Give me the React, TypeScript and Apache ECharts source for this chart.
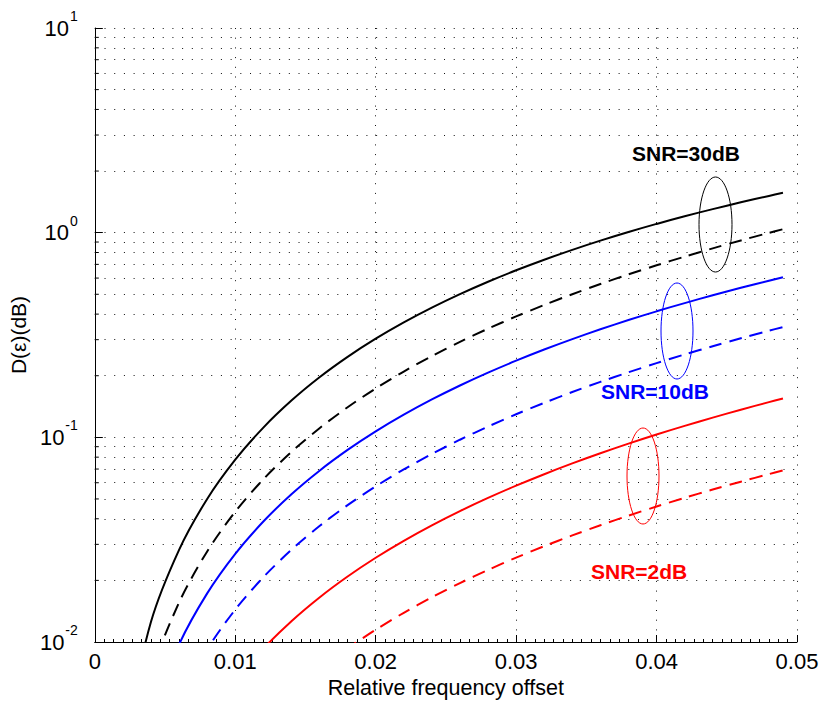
import React, { useEffect, useRef } from "react";
import * as echarts from "echarts";

// Relative frequency offset (x samples shared by all curves)
const EPS = [0.002, 0.004, 0.006, 0.008, 0.010, 0.012, 0.014, 0.016, 0.018, 0.020, 0.022, 0.024, 0.026, 0.028, 0.030, 0.032, 0.034, 0.036, 0.038, 0.040, 0.042, 0.044, 0.046, 0.048, 0.049];

// D(eps) in dB
const SNR30_SOLID = [0.00314, 0.01255, 0.0282, 0.0500, 0.0778, 0.1116, 0.1512, 0.1965, 0.2472, 0.3033, 0.3643, 0.4302, 0.5008, 0.5757, 0.6548, 0.7376, 0.8242, 0.9142, 1.0074, 1.1035, 1.2023, 1.3035, 1.4068, 1.5123, 1.5659];
const SNR30_DASH = [0.00173, 0.00693, 0.0156, 0.0277, 0.0433, 0.0624, 0.0849, 0.1108, 0.1403, 0.1732, 0.2096, 0.2494, 0.2927, 0.3395, 0.3897, 0.4434, 0.5005, 0.5612, 0.6253, 0.6928, 0.7638, 0.8383, 0.9162, 0.9976, 1.0396];
const SNR10_SOLID = [0.00108, 0.00433, 0.00973, 0.01728, 0.02697, 0.03879, 0.05271, 0.06872, 0.08679, 0.1069, 0.1290, 0.1531, 0.1792, 0.2071, 0.2369, 0.2686, 0.3020, 0.3373, 0.3741, 0.4127, 0.4528, 0.4945, 0.5378, 0.5825, 0.6054];
const SNR10_DASH = [0.000576, 0.002304, 0.005184, 0.009216, 0.0144, 0.020736, 0.028224, 0.036864, 0.046656, 0.0576, 0.069696, 0.082944, 0.097344, 0.112896, 0.1296, 0.147456, 0.166464, 0.186624, 0.207936, 0.2304, 0.254016, 0.278784, 0.304704, 0.331776, 0.345744];
const SNR2_SOLID = [0.000258, 0.001032, 0.002322, 0.004128, 0.00645, 0.009288, 0.012642, 0.016512, 0.020898, 0.0258, 0.031218, 0.037152, 0.043602, 0.050568, 0.05805, 0.066048, 0.074562, 0.083592, 0.093138, 0.1032, 0.113778, 0.124872, 0.136482, 0.148608, 0.154865];
const SNR2_DASH = [0.000115, 0.000459, 0.001033, 0.001837, 0.00287, 0.004133, 0.005625, 0.007347, 0.009299, 0.01148, 0.013891, 0.016531, 0.019401, 0.022501, 0.02583, 0.029389, 0.033177, 0.037195, 0.041443, 0.04592, 0.050627, 0.055563, 0.060729, 0.066125, 0.068909];

// Log-axis minor positions (2..9 x decade)
const Y_MINOR = [0.02, 0.03, 0.04, 0.05, 0.06, 0.07, 0.08, 0.09, 0.2, 0.3, 0.4, 0.5, 0.6, 0.7, 0.8, 0.9, 2, 3, 4, 5, 6, 7, 8, 9];

const ANNOTATIONS = ["SNR=30dB", "SNR=10dB", "SNR=2dB"];

const FONT = "'Liberation Sans', Arial, Helvetica, sans-serif";
const DOT: number[] = [1, 8.7];
const GRID_COLOR = "#111";

export default function App() {
  const ref = useRef<HTMLDivElement>(null);
  useEffect(() => {
    if (!ref.current) return;
    const chart = echarts.init(ref.current, null, { renderer: "svg" });
    const pts = (vals: number[]) => EPS.map((e, i) => [e, vals[i]]);
    const mk = (name: string, vals: number[], color: string, dashed: boolean) => ({
      name,
      type: "line",
      data: pts(vals),
      smooth: 0.3,
      showSymbol: false,
      symbol: "none",
      clip: true,
      lineStyle: { color, width: 2, type: dashed ? [13, 8] : "solid" },
      z: 5,
    });
    const option: any = {
      animation: false,
      backgroundColor: "#fff",
      grid: { left: 93, right: 26, top: 28, bottom: 66 },
      xAxis: {
        type: "value",
        min: 0,
        max: 0.05,
        interval: 0.01,
        name: "Relative frequency offset",
        nameLocation: "middle",
        nameGap: 35,
        nameTextStyle: { fontSize: 21.5, color: "#000", fontFamily: FONT },
        axisLine: { show: true, lineStyle: { color: "#000", width: 1 } },
        axisTick: { show: true, inside: true, length: 7, lineStyle: { color: "#000" } },
        minorTick: { show: true, splitNumber: 15, length: 3, lineStyle: { color: "#000" } },
        axisLabel: { fontSize: 22, color: "#000", margin: 8, fontFamily: FONT },
        splitLine: { show: true, lineStyle: { color: GRID_COLOR, width: 1, type: DOT } },
      },
      yAxis: {
        type: "log",
        logBase: 10,
        min: 0.01,
        max: 10,
        name: "D(ε)(dB)",
        nameLocation: "middle",
        nameGap: 60,
        nameTextStyle: { fontSize: 21, color: "#000", fontFamily: FONT },
        axisLine: { show: true, lineStyle: { color: "#000", width: 1 } },
        axisTick: { show: true, inside: true, length: 8, lineStyle: { color: "#000" } },
        axisLabel: {
          margin: 17,
          color: "#000",
          fontFamily: FONT,
          formatter: (v: number) => {
            const e = Math.round(Math.log10(v));
            return `{b|10}{s|${e}}`;
          },
          rich: {
            b: { fontSize: 22, color: "#000", fontFamily: FONT },
            s: { fontSize: 14, color: "#000", fontFamily: FONT, padding: [0, 0, 24, 1] },
          },
        },
        splitLine: { show: true, lineStyle: { color: GRID_COLOR, width: 1, type: DOT } },
      },
      series: [
        mk("SNR=30dB", SNR30_SOLID, "#000000", false),
        mk("SNR=30dB dashed", SNR30_DASH, "#000000", true),
        mk("SNR=10dB", SNR10_SOLID, "#0000ff", false),
        mk("SNR=10dB dashed", SNR10_DASH, "#0000ff", true),
        mk("SNR=2dB", SNR2_SOLID, "#ff0000", false),
        mk("SNR=2dB dashed", SNR2_DASH, "#ff0000", true),
        {
          name: "minor",
          type: "custom",
          data: Y_MINOR.map((v) => [0, v]),
          renderItem: (params: any, api: any) => {
            const p = api.coord([0, api.value(1)]);
            return {
              type: "line",
              shape: { x1: p[0], y1: p[1], x2: p[0] + 4, y2: p[1] },
              style: { stroke: "#000", lineWidth: 1 },
            };
          },
          z: 3,
          markLine: {
            silent: true,
            symbol: "none",
            label: { show: false },
            animation: false,
            lineStyle: { color: GRID_COLOR, width: 1, type: DOT },
            data: Y_MINOR.map((v) => ({ yAxis: v })),
          },
        },
      ],
      graphic: [
        {
          type: "text",
          left: 688 - 56,
          top: 143,
          style: { text: ANNOTATIONS[0], fill: "#000", font: `bold 21px ${FONT}` },
        },
        {
          type: "text",
          left: 656 - 55,
          top: 381,
          style: { text: ANNOTATIONS[1], fill: "#0000ff", font: `bold 21px ${FONT}` },
        },
        {
          type: "text",
          left: 640 - 49,
          top: 561,
          style: { text: ANNOTATIONS[2], fill: "#ff0000", font: `bold 21px ${FONT}` },
        },
        {
          type: "ellipse",
          shape: { cx: 715.5, cy: 224.5, rx: 16.5, ry: 47.5 },
          style: { fill: "none", stroke: "#000", lineWidth: 1 },
          z: 10,
        },
        {
          type: "ellipse",
          shape: { cx: 677, cy: 331, rx: 16, ry: 48 },
          style: { fill: "none", stroke: "#0000ff", lineWidth: 1 },
          z: 10,
        },
        {
          type: "ellipse",
          shape: { cx: 643, cy: 476, rx: 16, ry: 48 },
          style: { fill: "none", stroke: "#ff0000", lineWidth: 1 },
          z: 10,
        },
      ],
    };
    chart.setOption(option);
    return () => chart.dispose();
  }, []);
  return (
    <div
      ref={ref}
      style={{ position: "fixed", left: 0, top: 0, width: 823, height: 708, background: "#fff" }}
    />
  );
}
